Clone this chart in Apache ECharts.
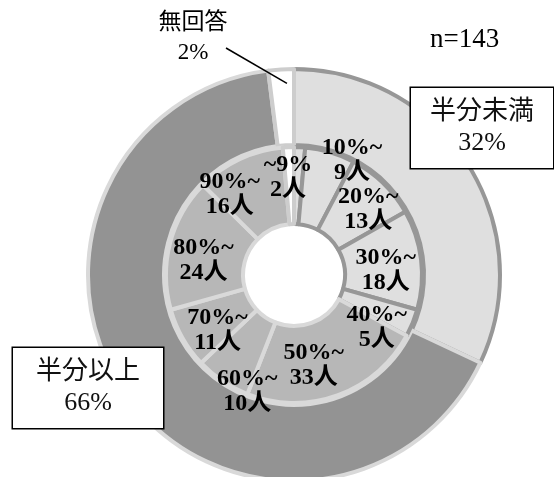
<!DOCTYPE html>
<html>
<head>
<meta charset="utf-8">
<script src="https://cdn.jsdelivr.net/npm/echarts@6/dist/echarts.min.js"></script>
<style>
  html, body { margin: 0; padding: 0; background: #fff; }
  #chart { width: 554px; height: 477px; }
</style>
</head>
<body>
<div id="chart"></div>
<script>
// Outer ring: share of respondents (%)
const outerNames = ['半分未満', '半分以上', '無回答'];
const outerPercents = [32, 66, 2];

// Inner ring: respondents per band (people)
const bandNames = ['~9%', '10%~', '20%~', '30%~', '40%~', '50%~', '60%~', '70%~', '80%~', '90%~', '無回答'];
const bandCounts = [2, 9, 13, 18, 5, 33, 10, 11, 24, 16, 2];

const sampleSize = 143;

// ---- layout & style ----
const CENTER = [294, 275];
const OUTER_RADIUS = [130, 206];
const INNER_RADIUS = [51, 128];

const SERIF = '"Liberation Serif", "Times New Roman", "Noto Sans CJK JP", serif';

const C = {
  light: '#dfdfdf',
  darkLine: '#979797',
  dark: '#939393',
  medium: '#b7b7b7',
  lightLine: '#d9d9d9',
  blankLine: '#cdcdcd',
  text: '#111'
};

// nudges for the inner labels, from the default mid-ring spot
const innerLabelShift = [
  [-10, -5], [32, -26], [10, 1], [0, 6], [-3, 18],
  [-12, 3], [5, 40], [4, 10], [-1, 8], [-25, 3], [0, 0]
];

// where the outer labels sit
const outerLabelPos = [
  { x: 482, y: 128 },
  { x: 88, y: 388 },
  { x: 193, y: 38 }
];

function innerStyle(i) {
  if (i === bandNames.length - 1) return { color: '#fff', borderColor: C.blankLine, borderWidth: 4 };
  if (i < 5) return { color: C.light, borderColor: C.darkLine, borderWidth: 4 };
  return { color: C.medium, borderColor: C.lightLine, borderWidth: 4 };
}

const outerStyles = [
  { color: C.light, borderColor: C.darkLine, borderWidth: 4 },
  { color: C.dark, borderColor: C.lightLine, borderWidth: 4 },
  { color: '#fff', borderColor: C.blankLine, borderWidth: 4 }
];

const boxLabel = {
  backgroundColor: '#fff',
  borderColor: '#000',
  borderWidth: 1.5,
  padding: [9, 0],
  lineHeight: 31,
  align: 'center',
  color: C.text
};

const outerData = outerNames.map((name, i) => {
  const item = { name, value: outerPercents[i], itemStyle: outerStyles[i] };
  if (i < 2) {
    item.label = Object.assign({ width: i === 0 ? 142 : 150 }, boxLabel);
  } else {
    item.label = { fontSize: 23, lineHeight: 30, align: 'center', color: '#000' };
  }
  return item;
});

const innerData = bandNames.map((name, i) => ({
  name,
  value: bandCounts[i],
  itemStyle: innerStyle(i),
  label: { show: i !== bandNames.length - 1 }
}));

// leader for the "no answer" label: from the label into its slice, at mid angle
function leaderLine() {
  const total = outerPercents.reduce((a, b) => a + b, 0);
  const before = outerPercents.slice(0, 2).reduce((a, b) => a + b, 0);
  const mid = (before + outerPercents[2] / 2) / total * 2 * Math.PI;
  const r = OUTER_RADIUS[1] - 14;
  const pos = outerLabelPos[2];
  return {
    x1: pos.x + 33, y1: pos.y + 10,
    x2: CENTER[0] + r * Math.sin(mid) + 5, y2: CENTER[1] - r * Math.cos(mid)
  };
}

const chart = echarts.init(document.getElementById('chart'), null, { renderer: 'canvas' });

chart.setOption({
  backgroundColor: '#fff',
  animation: false,
  graphic: [
    {
      type: 'text',
      left: 430,
      top: 26,
      style: { text: 'n=' + sampleSize, font: '27px ' + SERIF, fill: '#000' }
    },
    {
      type: 'line',
      z: 100,
      shape: leaderLine(),
      style: { stroke: '#000', lineWidth: 1.5 }
    }
  ],
  series: [
    {
      type: 'pie',
      name: 'outer',
      center: CENTER,
      radius: OUTER_RADIUS,
      startAngle: 90,
      clockwise: true,
      avoidLabelOverlap: false,
      silent: true,
      label: {
        show: true,
        position: 'outside',
        formatter: '{b}\n{c}%',
        fontFamily: SERIF,
        fontSize: 26,
        color: C.text
      },
      labelLine: { show: false },
      labelLayout: function (p) {
        const pos = outerLabelPos[p.dataIndex];
        return { x: pos.x, y: pos.y, align: 'center', verticalAlign: 'middle' };
      },
      data: outerData
    },
    {
      type: 'pie',
      name: 'inner',
      center: CENTER,
      radius: INNER_RADIUS,
      startAngle: 90,
      clockwise: true,
      avoidLabelOverlap: false,
      silent: true,
      label: {
        show: true,
        position: 'inside',
        formatter: function (p) { return p.name + '\n' + p.value + '人'; },
        fontFamily: SERIF,
        fontWeight: 'bold',
        fontSize: 24,
        lineHeight: 25,
        color: '#000'
      },
      labelLine: { show: false },
      labelLayout: function (p) {
        const s = innerLabelShift[p.dataIndex];
        return { dx: s[0], dy: s[1] };
      },
      data: innerData
    }
  ]
});
</script>
</body>
</html>
